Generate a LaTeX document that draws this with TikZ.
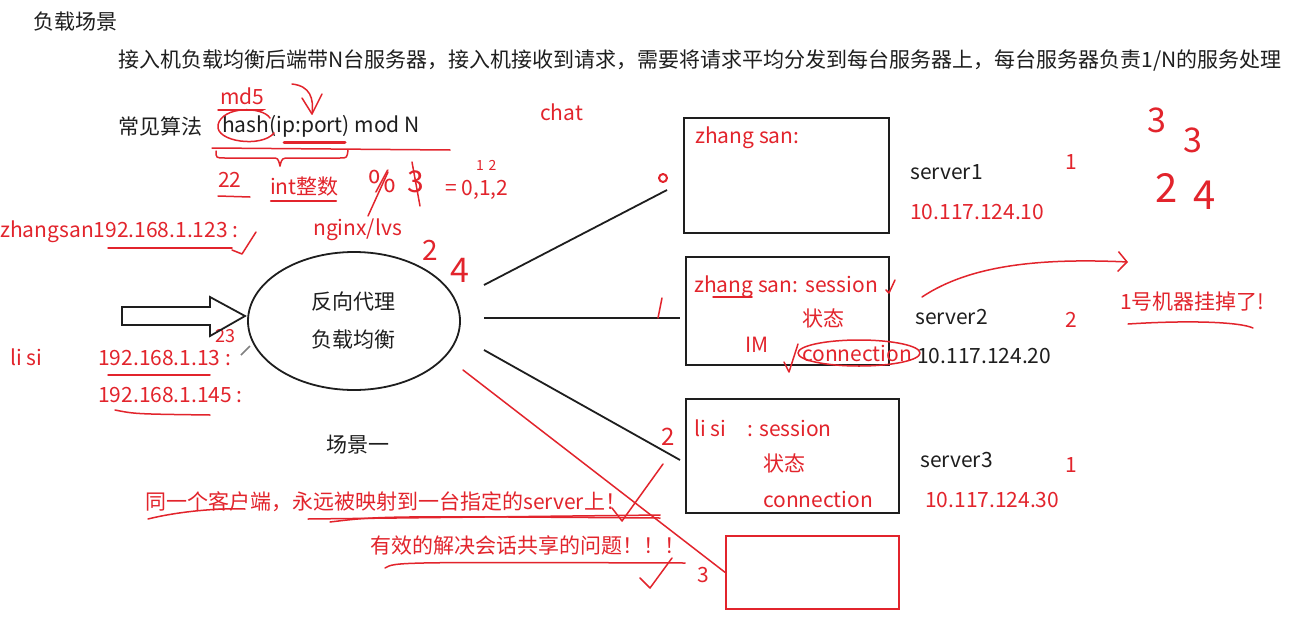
\documentclass[tikz,border=0pt]{standalone}
\usepackage{fontspec}
\setmainfont{Noto Sans CJK SC}
\usetikzlibrary{arrows.meta,shapes.geometric}
\definecolor{hr}{RGB}{226,36,44}
\definecolor{ink}{RGB}{30,30,30}
\begin{document}
\begin{tikzpicture}[x=1pt,y=-1pt,
  txt/.style={inner sep=0pt,anchor=west,text=ink,font=\fontsize{21}{24}\selectfont},
  rt/.style={txt,text=hr},
  hand/.style={inner sep=0pt,text=hr,font=\fontsize{34}{36}\selectfont},
  pen/.style={draw=hr,line width=1.5pt,line cap=round,line join=round},
  box/.style={draw=ink,line width=1.8pt,inner sep=0pt,anchor=north west},
  link/.style={draw=ink,line width=1.8pt}]
\useasboundingbox (0,0) rectangle (1297,634);
\fill[white] (0,0) rectangle (1297,634);

% header texts
\node[txt] (title) at (33,22) {负载场景};
\node[txt] (desc) at (118,60) {接入机负载均衡后端带N台服务器，接入机接收到请求，需要将请求平均分发到每台服务器上，每台服务器负责1/N的服务处理};
\node[txt] (algo) at (118,126) {常见算法};
\node[txt] (hash) at (222,126) {hash(ip:port) mod N};
\node[rt] (md5) at (220,96) {md5};
\node[rt] (chat) at (540,112) {chat};

% annotations around hash
\draw[pen] (md5.south west) ++(0,5) -- ++(45,0);
\draw[pen] (218,110) -- (263,110);
\draw[pen] (292,84) .. controls (310,86) and (314,98) .. (312,114);
\draw[pen] (302,98) -- (312,114) -- (322,94);
\draw[pen] (270,118) .. controls (262,106) and (222,106) .. (218,125) .. controls (215,142) and (262,148) .. (274,133);
\draw[pen,line width=3pt] (284,142) -- (345,142);
\draw[pen] (212,148) -- (450,150);
\draw[pen] (216,151) .. controls (216,158) .. (225,158) -- (272,158) .. controls (278,158) .. (280,166);
\draw[pen] (280,166) .. controls (282,158) .. (290,158) -- (340,158) .. controls (347,158) .. (348,150);

\node[rt] (n22) at (218,180) {22};
\draw[pen] (218,196) -- (250,197);
\node[rt] (int) at (270,187) {int整数};
\draw[pen,line width=2.5pt] (271,201) -- (336,201);
\node[hand,font=\fontsize{30}{32}\selectfont] (pct) at (382,182) {\%};
\draw[pen] (388,172) -- (368,216);
\node[hand,font=\fontsize{30}{32}\selectfont] (three) at (416,182) {3};
\draw[pen] (412,162) -- (420,206);
\node[rt] (eq) at (445,190) {= 0,1,2};
\node[rt,font=\fontsize{14}{16}\selectfont] (s12) at (476,165) {1\,\,2};

% clients
\node[rt] (zs) at (0,232) {zhangsan192.168.1.123 :};
\draw[pen] (108,248) -- (232,248);
\draw[pen] (232,250) -- (242,254) -- (256,232);
\node[rt] (ng) at (313,230) {nginx/lvs};
\node[hand,font=\fontsize{28}{30}\selectfont] (h2a) at (430,250) {2};
\node[hand,font=\fontsize{34}{36}\selectfont] (h4a) at (460,270) {4};
\node[rt] (lisi) at (10,357) {li si};
\node[rt] (ip13) at (98,358) {192.168.1.13 :};
\draw[pen] (108,375) -- (210,375);
\node[rt] (ip145) at (98,395) {192.168.1.145 :};
\draw[pen] (115,410) .. controls (135,414) .. (210,415);
\node[rt,font=\fontsize{18}{20}\selectfont] (h23) at (215,336) {23};
\draw[gray,line width=1.5pt] (241,355) -- (250,346);

% input arrow
\draw[draw=ink,line width=1.8pt,line join=miter] (122,307) -- (210,307) -- (210,297) -- (245,316) -- (210,336) -- (210,325) -- (122,325) -- cycle;

% proxy ellipse
\node[ellipse,draw=ink,line width=1.8pt,minimum width=212pt,minimum height=138pt,inner sep=0pt] (lb) at (354,321) {};
\node[txt,anchor=center] (lb1) at (353,302) {反向代理};
\node[txt,anchor=center] (lb2) at (353,340) {负载均衡};
\node[txt,anchor=center] (sc1) at (358,445) {场景一};

% servers
\node[box,minimum width=205pt,minimum height=115pt] (s1) at (683,117) {};
\node[box,minimum width=203pt,minimum height=108pt] (s2) at (685,256) {};
\node[box,minimum width=213pt,minimum height=114pt] (s3) at (685,398) {};
\node[draw=hr,line width=1.6pt,inner sep=0pt,anchor=north west,minimum width=173pt,minimum height=73pt] (s4) at (725,535) {};

\node[rt] (z1) at (695,138) {zhang san:};
\node[txt] (sv1) at (910,172) {server1};
\node[rt] (ip1) at (910,212) {10.117.124.10};
\node[rt] (c1) at (1065,162) {1};

\node[rt] (z2) at (694,287) {zhang san:\,\,session};
\draw[pen] (713,297) -- (752,297);
\draw[pen] (886,290) -- (889,293) -- (895,280);
\node[rt] (st2) at (802,318) {状态};
\node[rt] (im) at (745,345) {IM};
\node[rt] (cn2) at (802,353) {connection};
\draw[pen] (859,353) ellipse (61 and 13);
\draw[pen] (784,362) -- (789,372) -- (798,344);
\node[txt] (sv2) at (915,317) {server2};
\node[txt] (ip2) at (917,356) {10.117.124.20};
\node[rt] (c2) at (1065,320) {2};

\node[rt] (z3) at (694,428) {li si\quad: session};
\node[rt] (st3) at (763,463) {状态};
\node[rt] (cn3) at (763,499) {connection};
\node[txt] (sv3) at (920,460) {server3};
\node[rt] (ip3) at (925,500) {10.117.124.30};
\node[rt] (c3) at (1065,465) {1};

% right-hand notes
\node[hand] (r3a) at (1157,120) {3};
\node[hand] (r3b) at (1193,140) {3};
\node[hand,font=\fontsize{40}{42}\selectfont] (r2) at (1167,188) {2};
\node[hand,font=\fontsize{40}{42}\selectfont] (r4) at (1205,195) {4};
\coordinate (ar0) at (922,297);
\coordinate (ar1) at (1128,262);
\draw[pen,-{Straight Barb[length=9pt,width=20pt]}] (ar0) .. controls (970,265) and (1040,258) .. (ar1);
\node[rt] (dead) at (1120,302) {1号机器挂掉了!};
\draw[pen] (1128,324) .. controls (1190,320) and (1240,322) .. (1253,328);

% links
\coordinate (a1) at (484,285); \coordinate (b1) at (667,190);
\coordinate (a2) at (484,318); \coordinate (b2) at (680,318);
\coordinate (a3) at (484,350); \coordinate (b3) at (680,460);
\coordinate (a4) at (463,370);
\draw[link] (a1) -- (b1);
\draw[link] (a2) -- (b2);
\draw[link] (a3) -- (b3);
\draw[pen] (a4) -- (s4.west);
\draw[pen,line width=2pt] (663,178) circle (4);
\draw[pen] (662,298) -- (658,318);
\node[hand,font=\fontsize{24}{26}\selectfont] (h2b) at (668,437) {2};
\node[rt] (h3b) at (697,575) {3};

% bottom red sentences
\node[rt] (sent1) at (145,502) {同一个客户端，永远被映射到一台指定的server上！};
\draw[pen] (148,519) .. controls (180,511) and (220,508) .. (245,509);
\draw[pen] (308,519) -- (660,515);
\draw[pen] (330,522) .. controls (380,516) .. (660,518);
\node[rt] (sent2) at (370,545) {有效的解决会话共享的问题！！！};
\draw[pen] (385,568) .. controls (395,562) .. (685,563);
\draw[pen] (612,508) -- (622,521) -- (663,464);
\draw[pen] (640,578) -- (650,588) -- (672,558);
\end{tikzpicture}
\end{document}
